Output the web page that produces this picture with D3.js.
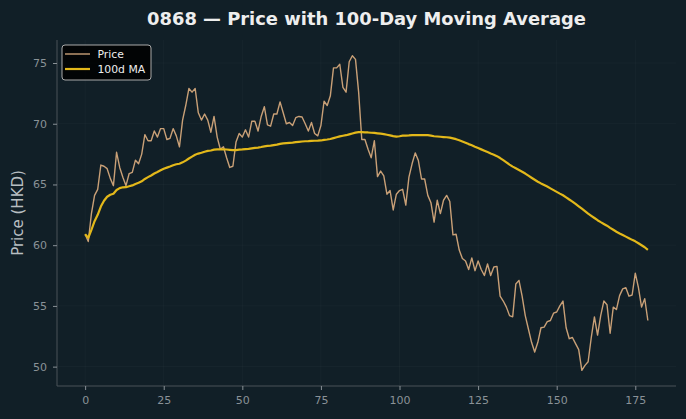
<!DOCTYPE html>
<html><head><meta charset="utf-8">
<script src="https://cdn.jsdelivr.net/npm/d3@7"></script>
<style>html,body{margin:0;padding:0;background:#111f27;}svg{display:block;}</style>
</head><body>
<svg id="chart" width="686" height="419"></svg>
<script>
const title = "0868 — Price with 100-Day Moving Average";
const yLabel = "Price (HKD)";
const seriesNames = ["Price", "100d MA"];
const maWindow = 100;
const xTicks = [0, 25, 50, 75, 100, 125, 150, 175];
const yTicks = [50, 55, 60, 65, 70, 75];
const price = [
60.9,60.3,62.6,64.1,64.6,66.6,66.5,66.3,65.5,64.9,
67.65,66.4,65.6,64.9,65.9,66.0,67.0,66.7,67.5,69.1,
68.6,68.6,69.4,68.9,69.6,69.6,68.7,68.8,69.6,69.0,
68.1,70.3,71.5,72.9,72.6,72.9,70.9,70.3,70.8,70.3,
69.3,70.6,68.9,67.9,68.1,67.2,66.4,66.5,68.5,69.2,
68.9,69.5,68.9,70.2,70.2,69.4,70.6,71.4,69.9,69.8,
70.8,70.8,71.8,70.9,70.0,70.1,69.85,70.5,70.6,70.55,
70.0,69.4,70.1,69.2,69.0,69.85,71.85,71.5,72.3,74.6,
74.6,74.9,73.0,72.6,75.1,75.6,75.3,72.6,68.7,68.7,
67.9,67.2,68.6,65.65,66.1,65.7,64.2,64.5,62.9,64.2,
64.5,64.6,63.3,65.6,66.7,67.6,66.97,65.45,65.45,64.1,
63.5,61.9,63.7,62.6,63.7,64.1,63.6,60.85,60.9,59.6,
58.9,58.7,58.0,58.95,57.9,58.7,58.0,57.5,58.45,57.5,
58.2,58.25,55.8,55.4,54.9,54.2,54.1,56.8,57.1,55.8,
54.2,53.1,52.0,51.2,52.0,53.2,53.25,53.7,53.8,54.4,
54.5,55.0,55.4,53.2,52.3,52.4,51.9,51.4,49.7,50.1,
50.4,52.4,54.1,52.6,54.2,55.4,55.1,52.75,54.9,54.7,
55.85,56.4,56.5,55.8,55.9,57.7,56.5,54.9,55.6,53.8
];
// 100-day moving average of the price series (partial window at the start)
const ma = price.map((_, i) => d3.mean(price.slice(Math.max(0, i - maWindow + 1), i + 1)));

const W = 686, H = 419;
const m = {left: 57, right: 10, top: 40, bottom: 33};
const svg = d3.select("#chart");
svg.append("rect").attr("width", W).attr("height", H).attr("fill", "#111f27");

const n = price.length;
const xPad = (n - 1) * 0.05;
const x = d3.scaleLinear().domain([-xPad, n - 1 + xPad]).range([m.left, W - m.right]);
const ymin = d3.min(price.concat(ma)), ymax = d3.max(price.concat(ma));
const yPad = (ymax - ymin) * 0.05;
const y = d3.scaleLinear().domain([ymin - yPad, ymax + yPad]).range([H - m.bottom, m.top]);

// grid
const g = svg.append("g");
g.selectAll(".gx").data(xTicks).join("line")
  .attr("x1", d => x(d)).attr("x2", d => x(d))
  .attr("y1", m.top).attr("y2", H - m.bottom)
  .attr("stroke", "#ffffff").attr("stroke-opacity", 0.04).attr("stroke-width", 0.8);
g.selectAll(".gy").data(yTicks).join("line")
  .attr("x1", m.left).attr("x2", W - m.right)
  .attr("y1", d => y(d)).attr("y2", d => y(d))
  .attr("stroke", "#ffffff").attr("stroke-opacity", 0.04).attr("stroke-width", 0.8);

// axes
const xAxis = svg.append("g").attr("transform", `translate(0,${H - m.bottom})`)
  .call(d3.axisBottom(x).tickValues(xTicks).tickSize(4).tickPadding(6).tickFormat(d3.format("d")));
const yAxis = svg.append("g").attr("transform", `translate(${m.left},0)`)
  .call(d3.axisLeft(y).tickValues(yTicks).tickSize(4).tickPadding(6).tickFormat(d3.format("d")));
[xAxis, yAxis].forEach(a => {
  a.select(".domain").attr("stroke", "#4a5358").attr("stroke-width", 1);
  a.selectAll(".tick line").attr("stroke", "#8a9297");
  a.selectAll(".tick text").attr("fill", "#8a9297").attr("font-family", "DejaVu Sans")
    .attr("font-size", 11);
});
xAxis.select(".domain").attr("d", `M${m.left},0H${W - m.right}`);
yAxis.select(".domain").attr("d", `M0,${H - m.bottom}V${m.top}`);

// lines
const line = d3.line().x((d, i) => x(i)).y(d => y(d));
svg.append("path").datum(price).attr("d", line).attr("fill", "none")
  .attr("stroke", "#c9a077").attr("stroke-width", 1.4).attr("stroke-linejoin", "round");
svg.append("path").datum(ma).attr("d", line).attr("fill", "none")
  .attr("stroke", "#e3b81a").attr("stroke-width", 2.2).attr("stroke-linejoin", "round");

// title
svg.append("text").attr("x", (m.left + W - m.right) / 2).attr("y", 25)
  .attr("text-anchor", "middle").attr("fill", "#eeeeee")
  .attr("font-family", "DejaVu Sans").attr("font-weight", "bold").attr("font-size", 17.9)
  .text(title);
// y label
svg.append("text").attr("transform", `translate(23,${(m.top + H - m.bottom) / 2}) rotate(-90)`)
  .attr("text-anchor", "middle").attr("fill", "#b8bec2")
  .attr("font-family", "DejaVu Sans").attr("font-size", 15).text(yLabel);

// legend
const lg = svg.append("g").attr("transform", "translate(62,45)");
lg.append("rect").attr("width", 89).attr("height", 35).attr("rx", 3)
  .attr("fill", "#000000").attr("fill-opacity", 0.85)
  .attr("stroke", "#aaaaaa").attr("stroke-width", 1);
const colors = ["#c9a077", "#e3b81a"], widths = [1.4, 2.2];
seriesNames.forEach((s, i) => {
  const yy = 9 + i * 15;
  lg.append("line").attr("x1", 3).attr("x2", 28).attr("y1", yy).attr("y2", yy)
    .attr("stroke", colors[i]).attr("stroke-width", widths[i]);
  lg.append("text").attr("x", 35.5).attr("y", yy + 4).attr("fill", "#eeeeee")
    .attr("font-family", "DejaVu Sans").attr("font-size", 10.8).text(s);
});
</script>
</body></html>
